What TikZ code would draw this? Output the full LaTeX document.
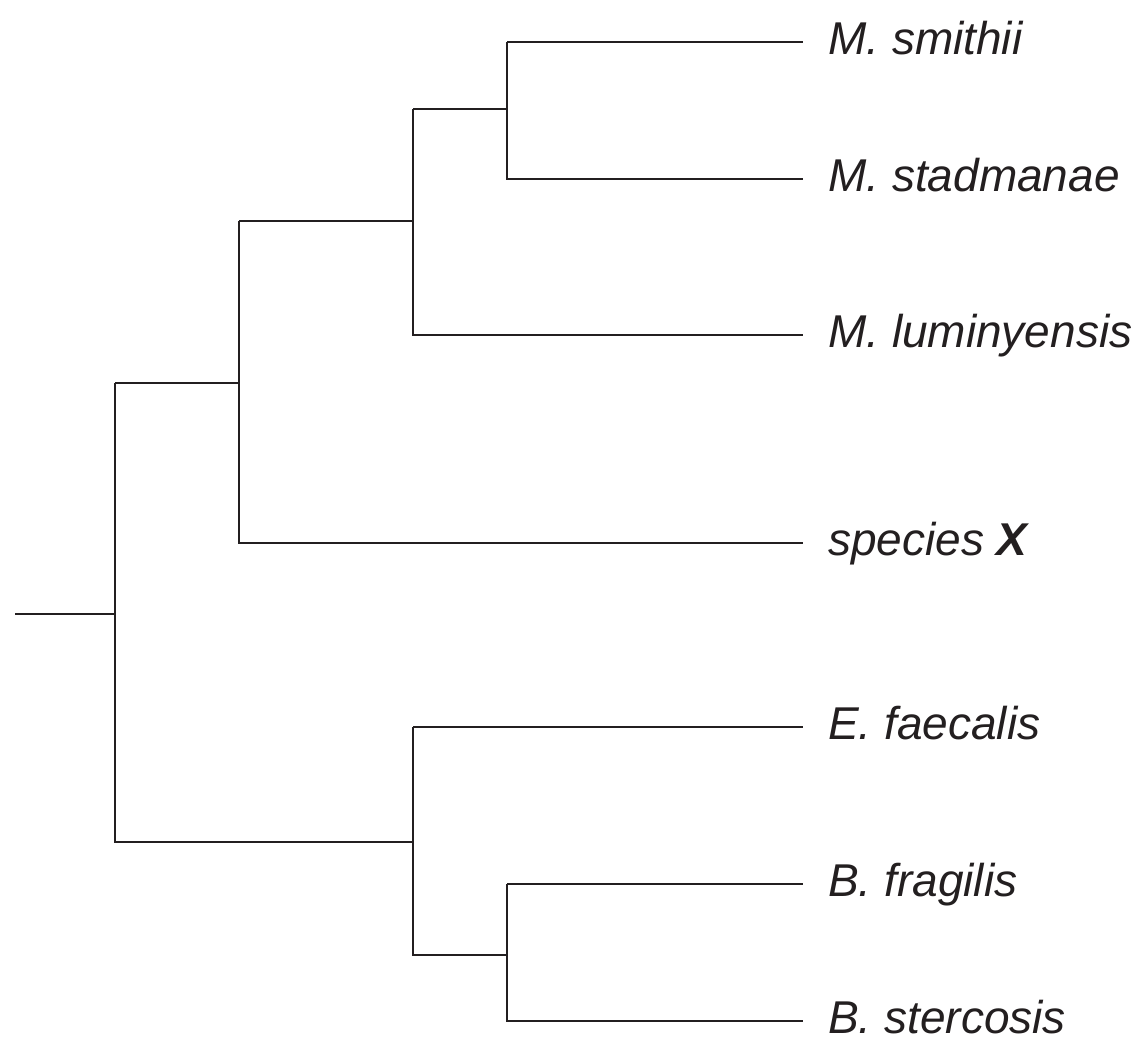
\documentclass[tikz,border=0pt]{standalone}
\usepackage{fontspec}
\setmainfont{Liberation Sans}
\definecolor{ink}{HTML}{231F20}
\begin{document}
\begin{tikzpicture}[x=1pt,y=-1pt,
  branch/.style={draw=ink,line width=2.8pt,line cap=butt,line join=miter},
  taxon/.style={anchor=base west,inner sep=0pt,text=ink,font=\fontsize{46}{52}\selectfont\itshape}]
\useasboundingbox (0,0) rectangle (1147,1053);
% internal nodes
\coordinate (root) at (15,614);
\coordinate (n0) at (115,614);
\coordinate (n1) at (239,383);
\coordinate (n2) at (413,221);
\coordinate (n3) at (507,109);
\coordinate (n4) at (413,842);
\coordinate (n5) at (507,955);
% leaf ends
\coordinate (l1) at (803,42);
\coordinate (l2) at (803,179);
\coordinate (l3) at (803,335);
\coordinate (l4) at (803,543);
\coordinate (l5) at (803,727);
\coordinate (l6) at (803,884);
\coordinate (l7) at (803,1021);
% labels
\node[taxon] (t1) at (828,54) {M. smithii};
\node[taxon] (t2) at (828,191) {M. stadmanae};
\node[taxon] (t3) at (828,347) {M. luminyensis};
\node[taxon] (t4) at (828,555) {species \textbf{X}};
\node[taxon] (t5) at (828,739) {E. faecalis};
\node[taxon] (t6) at (828,896) {B. fragilis};
\node[taxon] (t7) at (828,1033) {B. stercosis};
% branches
\draw[branch] (root) -- (n0);
\draw[branch] (n0 |- n1) -- (n1);
\draw[branch] (n0 |- n1) -- (n0 |- n4) -- (n4);
\draw[branch] (n1 |- n2) -- (n1 |- l4) -- (l4);
\draw[branch] (n1 |- n2) -- (n2);
\draw[branch] (n2 |- n3) -- (n2 |- l3) -- (l3);
\draw[branch] (n2 |- n3) -- (n3);
\draw[branch] (n3 |- l1) -- (n3 |- l2) -- (l2);
\draw[branch] (n3 |- l1) -- (l1);
\draw[branch] (n4 |- l5) -- (n4 |- n5) -- (n5);
\draw[branch] (n4 |- l5) -- (l5);
\draw[branch] (n5 |- l6) -- (n5 |- l7) -- (l7);
\draw[branch] (n5 |- l6) -- (l6);
\end{tikzpicture}
\end{document}
